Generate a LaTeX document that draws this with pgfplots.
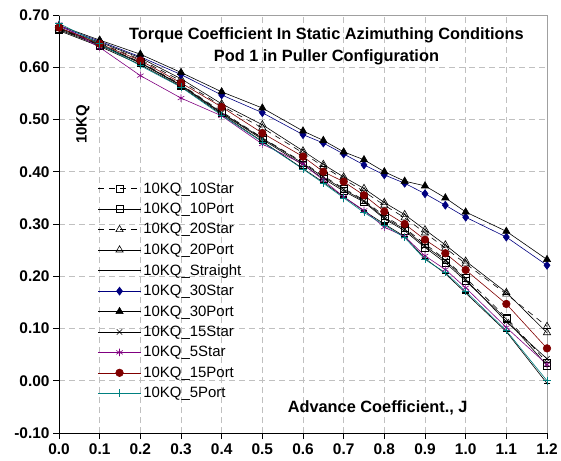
\documentclass[border=0pt]{standalone}
\usepackage{fontspec}
\setmainfont{Liberation Sans}
\usepackage{pgfplots}
\usepackage{pgfplotstable}
\pgfplotsset{compat=1.18}
\definecolor{navyc}{HTML}{000080}
\definecolor{purplec}{HTML}{800080}
\definecolor{maroonc}{HTML}{800000}
\definecolor{tealc}{HTML}{008080}
\definecolor{gridc}{HTML}{C0C0C0}
\definecolor{borderc}{HTML}{A0A0A0}

\pgfplotstableread{
J    s10   p10   s20   p20   str    s30   p30   s15   s5    p15   p5
0.00 0.673 0.672 0.674 0.675 0.670  0.678 0.680 0.674 0.682 0.676 0.684
0.10 0.643 0.642 0.646 0.648 0.640  0.650 0.652 0.644 0.638 0.645 0.645
0.20 0.610 0.608 0.615 0.618 0.605  0.620 0.625 0.609 0.584 0.613 0.603
0.30 0.567 0.565 0.574 0.578 0.563  0.586 0.590 0.566 0.541 0.570 0.562
0.40 0.515 0.512 0.526 0.530 0.510  0.547 0.553 0.513 0.507 0.524 0.508
0.50 0.465 0.462 0.484 0.490 0.458  0.513 0.522 0.464 0.453 0.474 0.457
0.60 0.418 0.413 0.436 0.440 0.406  0.471 0.478 0.416 0.415 0.429 0.405
0.65 0.392 0.387 0.410 0.414 0.380  0.455 0.460 0.390 0.384 0.400 0.378
0.70 0.368 0.363 0.386 0.390 0.352  0.434 0.438 0.366 0.352 0.381 0.350
0.75 0.346 0.342 0.362 0.368 0.325  0.413 0.423 0.344 0.326 0.355 0.322
0.80 0.315 0.310 0.336 0.341 0.300  0.394 0.400 0.312 0.294 0.324 0.298
0.85 0.292 0.287 0.312 0.318 0.276  0.378 0.382 0.290 0.276 0.300 0.274
0.90 0.262 0.255 0.283 0.289 0.234  0.358 0.373 0.258 0.239 0.270 0.232
0.95 0.232 0.226 0.254 0.260 0.205  0.336 0.350 0.230 0.213 0.244 0.207
1.00 0.197 0.191 0.224 0.229 0.168  0.313 0.323 0.194 0.178 0.212 0.171
1.10 0.121 0.118 0.166 0.169 0.094  0.275 0.286 0.113 0.102 0.147 0.096
1.20 0.035 0.029 0.104 0.092 -0.005 0.221 0.232 0.042 0.031 0.062 0.000
}\datatable

\begin{document}
\begin{tikzpicture}
\begin{axis}[
  at={(0,0)}, anchor=south west,
  scale only axis, width=488bp, height=418bp,
  xmin=0, xmax=1.2, ymin=-0.1, ymax=0.7,
  xtick={0,0.1,...,1.21}, ytick={-0.1,0,0.1,0.2,0.3,0.4,0.5,0.6,0.7},
  axis x line*=bottom, axis y line*=left,
  axis line style={black, line width=0.8pt, -},
  tick align=outside, major tick length=6bp,
  tick style={black, line width=0.6pt},
  grid=major,
  major grid style={gridc, line width=0.7pt, dash pattern=on 6bp off 4bp},
  /pgf/number format/assume math mode=true,
  ticklabel style={font=\fontsize{15.5}{18}\selectfont\bfseries},
  xticklabel style={yshift=-1bp, /pgf/number format/.cd, fixed, fixed zerofill, precision=1},
  yticklabel style={/pgf/number format/.cd, fixed, fixed zerofill, precision=2},
  every axis plot/.append style={line width=0.6pt},
  legend style={at={(rel axis cs:0.079,0.604)}, anchor=north west, draw=none, fill=none,
    font=\fontsize{15}{18}\selectfont, row sep=4.5bp, inner sep=0pt},
  legend cell align=left,
  legend image code/.code={\draw[mark repeat=2,mark phase=2,#1] plot coordinates {(0bp,0bp) (21.5bp,0bp) (43bp,0bp)};},
  clip=false,
]
\addplot[black, dash pattern=on 6bp off 5bp, mark=square, mark size=3.5, mark options={solid}] table[x=J,y=s10] {\datatable};
\addlegendentry{10KQ\_10Star}
\addplot[black, mark=square, mark size=3.5, mark options={solid}] table[x=J,y=p10] {\datatable};
\addlegendentry{10KQ\_10Port}
\addplot[black, dash pattern=on 6bp off 5bp, mark=triangle, mark size=4.2, mark options={solid}] table[x=J,y=s20] {\datatable};
\addlegendentry{10KQ\_20Star}
\addplot[black, mark=triangle, mark size=4.2, mark options={solid}] table[x=J,y=p20] {\datatable};
\addlegendentry{10KQ\_20Port}
\addplot[black, mark=-, mark size=3.5, mark options={solid, line width=1.4pt}] table[x=J,y=str] {\datatable};
\addlegendentry{10KQ\_Straight}
\addplot[navyc, mark=diamond*, mark size=4, mark options={solid, fill=navyc}] table[x=J,y=s30] {\datatable};
\addlegendentry{10KQ\_30Star}
\addplot[black, mark=triangle*, mark size=4.2, mark options={solid, fill=black}] table[x=J,y=p30] {\datatable};
\addlegendentry{10KQ\_30Port}
\addplot[black, mark=x, mark size=3.8, mark options={solid}] table[x=J,y=s15] {\datatable};
\addlegendentry{10KQ\_15Star}
\addplot[purplec, mark=asterisk, mark size=3.8, mark options={solid}] table[x=J,y=s5] {\datatable};
\addlegendentry{10KQ\_5Star}
\addplot[maroonc, mark=*, mark size=3.8, mark options={solid, fill=maroonc}] table[x=J,y=p15] {\datatable};
\addlegendentry{10KQ\_15Port}
\addplot[tealc, mark=+, mark size=3.8, mark options={solid}] table[x=J,y=p5] {\datatable};
\addlegendentry{10KQ\_5Port}
\draw[borderc, line width=0.7pt] (rel axis cs:0,1) -- (rel axis cs:1,1) -- (rel axis cs:1,0);
\node[font=\fontsize{16.4}{21.6}\selectfont\bfseries, align=center] at (rel axis cs:0.548,0.9246) {Torque Coefficient In Static Azimuthing Conditions\\Pod 1 in Puller Configuration};
\node[font=\fontsize{15}{18}\selectfont\bfseries, rotate=90] at (rel axis cs:0.049,0.739) {10KQ};
\node[font=\fontsize{16.4}{19}\selectfont\bfseries] at (rel axis cs:0.653,0.06) {Advance Coefficient., J};
\end{axis}
\pgfresetboundingbox
\path (-59bp,-28bp) rectangle (502bp,433bp);
\end{tikzpicture}
\end{document}
